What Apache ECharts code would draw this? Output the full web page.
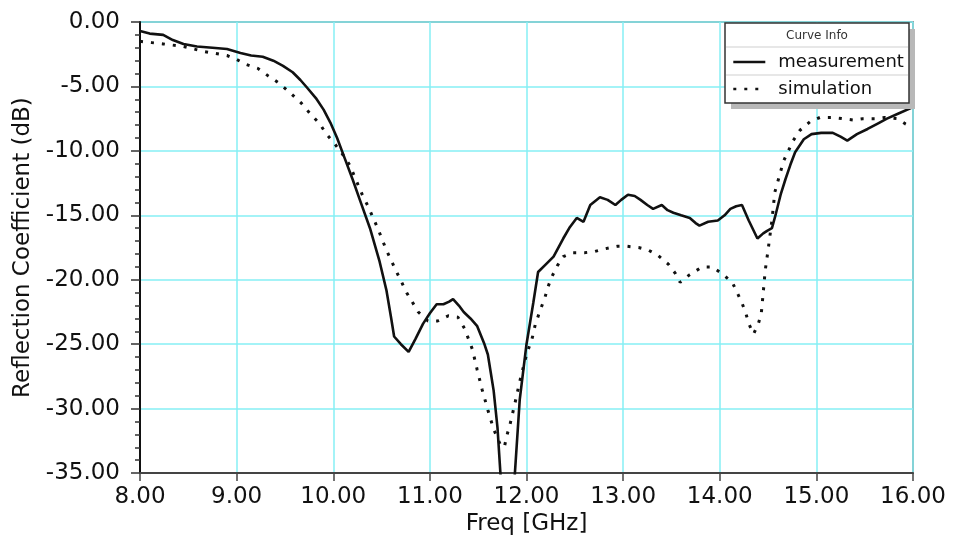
<!DOCTYPE html>
<html>
<head>
<meta charset="utf-8">
<script src="https://cdn.jsdelivr.net/npm/echarts@6/dist/echarts.min.js"></script>
<style>
html,body{margin:0;padding:0;background:#fff;}
#c{width:954px;height:541px;}
</style>
</head>
<body>
<div id="c"></div>
<script>
var xTicks = [8, 9, 10, 11, 12, 13, 14, 15, 16];
var yTicks = [0, -5, -10, -15, -20, -25, -30, -35];
var seriesNames = ['measurement', 'simulation'];

var measFreq = [8.00,8.10,8.24,8.34,8.45,8.59,8.75,8.90,9.04,9.15,9.27,9.38,9.48,9.58,9.66,9.73,9.82,9.90,9.97,10.04,10.12,10.20,10.28,10.38,10.48,10.55,10.60,10.63,10.70,10.78,10.85,10.93,11.00,11.07,11.14,11.20,11.24,11.30,11.35,11.42,11.49,11.56,11.60,11.63,11.66,11.70,11.73,11.77,11.83,11.88,11.93,12.00,12.07,12.12,12.20,12.28,12.38,12.45,12.52,12.59,12.66,12.76,12.84,12.92,12.98,13.05,13.12,13.18,13.25,13.31,13.40,13.46,13.52,13.60,13.69,13.75,13.79,13.88,13.98,14.05,14.11,14.17,14.23,14.30,14.39,14.45,14.49,14.54,14.58,14.63,14.68,14.73,14.78,14.87,14.95,15.05,15.17,15.25,15.32,15.42,15.53,15.63,15.73,15.85,16.00];
var measDb = [-0.7,-0.9,-1.0,-1.4,-1.7,-1.9,-2.0,-2.1,-2.4,-2.6,-2.7,-3.0,-3.4,-3.9,-4.5,-5.1,-5.9,-6.8,-7.8,-9.0,-10.6,-12.2,-13.9,-16.0,-18.6,-20.8,-23.0,-24.4,-25.0,-25.6,-24.6,-23.4,-22.6,-21.9,-21.9,-21.7,-21.5,-22.0,-22.5,-23.0,-23.6,-24.9,-25.8,-27.2,-28.6,-31.5,-35.0,-39.0,-40.0,-35.0,-29.3,-25.0,-21.8,-19.4,-18.8,-18.2,-16.8,-15.9,-15.2,-15.5,-14.2,-13.6,-13.8,-14.2,-13.8,-13.4,-13.5,-13.8,-14.2,-14.5,-14.2,-14.6,-14.8,-15.0,-15.2,-15.6,-15.8,-15.5,-15.4,-15.0,-14.5,-14.3,-14.2,-15.4,-16.8,-16.4,-16.2,-16.0,-14.9,-13.4,-12.2,-11.1,-10.1,-9.1,-8.7,-8.6,-8.6,-8.9,-9.2,-8.7,-8.3,-7.9,-7.5,-7.1,-6.6];

var simFreq = [8.00,8.12,8.24,8.45,8.67,8.90,9.00,9.10,9.22,9.33,9.43,9.54,9.67,9.76,9.86,9.93,10.02,10.10,10.17,10.30,10.36,10.46,10.55,10.65,10.76,10.88,10.98,11.08,11.19,11.29,11.36,11.44,11.49,11.54,11.60,11.66,11.73,11.77,11.80,11.83,11.88,11.93,12.00,12.06,12.09,12.14,12.19,12.22,12.26,12.32,12.38,12.48,12.60,12.71,12.81,12.94,13.04,13.16,13.26,13.36,13.47,13.54,13.59,13.69,13.82,13.92,14.02,14.13,14.18,14.23,14.27,14.30,14.35,14.40,14.43,14.45,14.47,14.50,14.54,14.57,14.60,14.66,14.71,14.76,14.83,14.94,15.04,15.16,15.27,15.38,15.48,15.61,15.71,15.84,15.92,16.00];
var simDb = [-1.5,-1.6,-1.7,-1.9,-2.3,-2.6,-2.9,-3.3,-3.6,-4.2,-4.7,-5.4,-6.3,-7.1,-7.9,-8.7,-9.5,-10.3,-11.1,-13.4,-14.3,-16.0,-17.7,-19.3,-21.0,-22.5,-23.2,-23.2,-22.8,-22.9,-23.8,-25.4,-27.0,-28.5,-30.1,-31.6,-32.8,-33.0,-32.0,-31.2,-29.6,-27.9,-25.8,-24.5,-23.5,-22.4,-21.4,-20.6,-19.8,-18.9,-18.2,-17.9,-17.9,-17.8,-17.6,-17.4,-17.4,-17.5,-17.7,-18.1,-18.8,-19.5,-20.2,-19.6,-19.0,-19.0,-19.5,-20.2,-21.0,-21.8,-22.6,-23.4,-24.2,-23.4,-22.6,-21.0,-19.3,-17.7,-15.4,-13.2,-12.4,-10.8,-10.0,-9.2,-8.4,-7.7,-7.4,-7.4,-7.5,-7.6,-7.5,-7.5,-7.4,-7.5,-7.9,-8.2];

function pairs(xs, ys) { return xs.map(function (x, i) { return [x, ys[i]]; }); }

var FONT = 'DejaVu Sans';
var chart = echarts.init(document.getElementById('c'), null, {renderer: 'canvas'});
chart.setOption({
  animation: false,
  backgroundColor: '#ffffff',
  grid: {left: 140, right: 41, top: 22, bottom: 64, show: true, borderColor: '#555', borderWidth: 1.5, backgroundColor: 'transparent'},
  xAxis: {
    type: 'value', min: xTicks[0], max: xTicks[xTicks.length - 1], interval: 1,
    name: 'Freq [GHz]', nameLocation: 'middle', nameGap: 34,
    nameTextStyle: {fontFamily: FONT, fontSize: 23, color: '#111'},
    axisLine: {show: true, onZero: false, lineStyle: {color: '#444', width: 2}},
    axisTick: {show: true, length: 8, lineStyle: {color: '#444', width: 1.5}},
    axisLabel: {fontFamily: FONT, fontSize: 23, color: '#111', margin: 12, formatter: function (v) { return v.toFixed(2); }},
    splitLine: {show: true, lineStyle: {color: '#86eff5', width: 1.5}}
  },
  yAxis: {
    type: 'value', min: yTicks[yTicks.length - 1], max: yTicks[0], interval: 5,
    name: 'Reflection Coefficient (dB)', nameLocation: 'middle', nameGap: 102,
    nameTextStyle: {fontFamily: FONT, fontSize: 23, color: '#111'},
    axisLine: {show: true, onZero: false, lineStyle: {color: '#111', width: 2}},
    axisTick: {show: true, length: 9, lineStyle: {color: '#333', width: 1.5}},
    minorTick: {show: true, splitNumber: 5, length: 5, lineStyle: {color: '#333', width: 1.5}},
    axisLabel: {fontFamily: FONT, fontSize: 23, color: '#111', margin: 20, formatter: function (v) { return v.toFixed(2); }},
    splitLine: {show: true, lineStyle: {color: '#86eff5', width: 1.5}}
  },
  legend: {
    show: true, orient: 'vertical', left: 732, top: 53, padding: 0, itemGap: 9,
    itemWidth: 32, itemHeight: 18, z: 20,
    data: seriesNames,
    itemStyle: {opacity: 0, borderWidth: 0},
    lineStyle: {width: 2.6},
    textStyle: {fontFamily: FONT, fontSize: 18, color: '#111', padding: [0, 0, 0, 8]}
  },
  graphic: [
    {type: 'rect', z: 10, shape: {x: 731, y: 29, width: 184, height: 80}, style: {fill: '#b8b8b8'}},
    {type: 'rect', z: 11, shape: {x: 725, y: 23, width: 184, height: 80}, style: {fill: '#ffffff', stroke: '#333', lineWidth: 1.5}},
    {type: 'line', z: 12, shape: {x1: 726, y1: 47, x2: 908, y2: 47}, style: {stroke: '#cfcfcf', lineWidth: 1}},
    {type: 'line', z: 12, shape: {x1: 726, y1: 75, x2: 908, y2: 75}, style: {stroke: '#cfcfcf', lineWidth: 1}},
    {type: 'text', z: 12, style: {x: 817, y: 36, text: 'Curve Info', fontFamily: FONT, fontSize: 12, fill: '#333', align: 'center', verticalAlign: 'middle'}}
  ],
  series: [
    {name: seriesNames[0], type: 'line', data: pairs(measFreq, measDb), symbol: 'none', smooth: false, clip: true,
     lineStyle: {color: '#111', width: 2.6}, itemStyle: {color: '#111'}, z: 3},
    {name: seriesNames[1], type: 'line', data: pairs(simFreq, simDb), symbol: 'none', smooth: false, clip: true,
     lineStyle: {color: '#111', width: 3, type: [3, 8]}, itemStyle: {color: '#111'}, z: 2}
  ]
});
</script>
</body>
</html>
